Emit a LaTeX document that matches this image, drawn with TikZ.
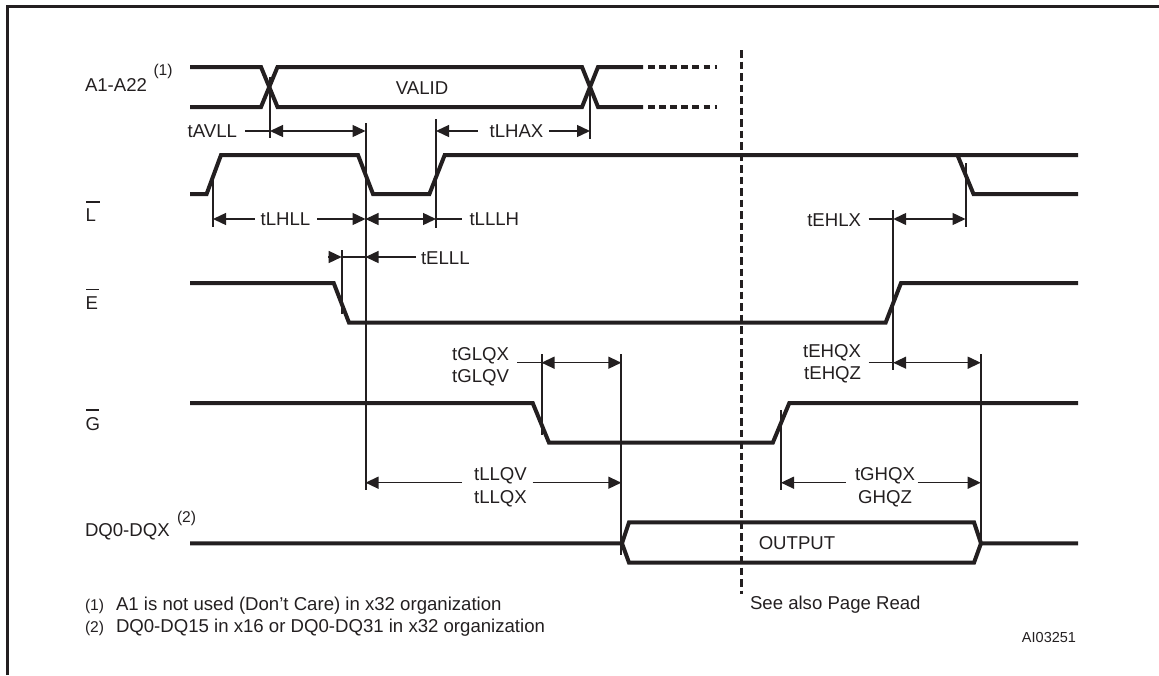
\documentclass[tikz,border=0pt]{standalone}
\usepackage{fontspec}
\setmainfont{Liberation Sans}
\usetikzlibrary{arrows.meta}
\definecolor{ink}{HTML}{231F20}
\tikzset{
  sig/.style={draw=ink,line width=4pt,line join=miter,line cap=butt},
  frameline/.style={draw=ink,line width=3pt},
  vline/.style={draw=ink,line width=2pt},
  dimline/.style={draw=ink,line width=1.4pt},
  tip/.style={-{Triangle[length=13pt,width=12pt]}},
  twotip/.style={{Triangle[length=13pt,width=12pt]}-{Triangle[length=13pt,width=12pt]}},
  lbl/.style={inner sep=0pt,outer sep=0pt,text=ink,font=\fontsize{18.6}{21}\selectfont},
  note/.style={inner sep=0pt,outer sep=0pt,text=ink,font=\fontsize{15.6}{18}\selectfont},
  tiny/.style={inner sep=0pt,outer sep=0pt,text=ink,font=\fontsize{14.5}{17}\selectfont}
}
\begin{document}
\begin{tikzpicture}[x=1pt,y=-1pt]
\useasboundingbox (0,0) rectangle (1159,675);
% frame
\coordinate (fa) at (7.5,675); \coordinate (fb) at (7.5,6.5); \coordinate (fc) at (1159,6.5);
\draw[frameline] (fa) -- (fb) -- (fc);
% named vertical-line ends
\coordinate (a1t) at (270,77);   \coordinate (a1b) at (270,138);
\coordinate (a2t) at (590,88);   \coordinate (a2b) at (590,139);
\coordinate (l1t) at (213,173);  \coordinate (l1b) at (213,227);
\coordinate (l2t) at (365.5,123);\coordinate (l2b) at (365.5,490);
\coordinate (l3t) at (436,119);  \coordinate (l3b) at (436,228);
\coordinate (l4t) at (965.5,163);\coordinate (l4b) at (965.5,227);
\coordinate (e1t) at (341.7,250);\coordinate (e1b) at (341.7,314);
\coordinate (e2t) at (893.2,210);\coordinate (e2b) at (893.2,370);
\coordinate (g1t) at (541.5,354);\coordinate (g1b) at (541.5,435);
\coordinate (g2t) at (781,410);  \coordinate (g2b) at (781,490);
\coordinate (q1t) at (621.3,354);\coordinate (q1b) at (621.3,555);
\coordinate (q2t) at (980.7,354);\coordinate (q2b) at (980.7,543);
\foreach \u/\v in {a1t/a1b,a2t/a2b,l1t/l1b,l2t/l2b,l3t/l3b,l4t/l4b,e1t/e1b,e2t/e2b,g1t/g1b,g2t/g2b,q1t/q1b,q2t/q2b}
  \draw[vline] (\u) -- (\v);
% dashed cursor
\coordinate (ct) at (741.5,50); \coordinate (cb) at (741.5,594);
\draw[draw=ink,line width=2.2pt,dash pattern=on 7.5pt off 4pt] (ct) -- (cb);
% signals
\draw[sig] (190,67) -- (261,67) -- (277.5,107) -- (582,107) -- (598,67) -- (643,67);
\draw[sig] (190,107) -- (261,107) -- (277.5,67) -- (582,67) -- (598,107) -- (643,107);
\draw[sig,dash pattern=on 6.5pt off 4.6pt] (648,67) -- (717,67);
\draw[sig,dash pattern=on 6.5pt off 4.6pt] (648,107) -- (717,107);
\draw[sig] (190,194) -- (206.6,194) -- (221,155) -- (358,155) -- (373,194) -- (429.4,194) -- (444.7,155) -- (1078,155);
\draw[sig] (957.4,155) -- (973.5,194) -- (1078,194);
\draw[sig] (190,283) -- (333.7,283) -- (349,322.7) -- (885.6,322.7) -- (901,283) -- (1078,283);
\draw[sig] (190,403) -- (532.7,403) -- (549,442.7) -- (772.8,442.7) -- (789.3,403) -- (1078,403);
\draw[sig] (190,543.3) -- (622,543.3) -- (629,522.3) -- (974,522.3) -- (981,543.3) -- (1078,543.3);
\draw[sig] (622,543.3) -- (629,562.7) -- (974,562.7) -- (981,543.3);
% signal names
\node[lbl,anchor=west] (nA) at (85,85) {A1-A22};
\node[note,anchor=west] (nAs) at (153.5,71) {(1)};
\node[lbl,anchor=west] (nL) at (85.5,215) {L};
\node[lbl,anchor=west] (nE) at (85.5,303) {E};
\node[lbl,anchor=west] (nG) at (85.5,424) {G};
\node[lbl,anchor=west] (nD) at (85,532) {DQ0-DQX};
\node[note,anchor=west] (nDs) at (177,518) {(2)};
\coordinate (oL1) at (86,202); \coordinate (oL2) at (100,202);
\coordinate (oE1) at (86,289.5); \coordinate (oE2) at (99,289.5);
\coordinate (oG1) at (86,410); \coordinate (oG2) at (99,410);
\draw[dimline] (oL1)--(oL2) (oE1)--(oE2) (oG1)--(oG2);
% bus texts
\node[lbl] (vv) at (422,88) {VALID};
\node[lbl] (oo) at (797,543.5) {OUTPUT};
% timing labels
\node[lbl,anchor=east] (tAVLL) at (237,131.5) {tAVLL};
\node[lbl] (tLHAX) at (516.5,131.5) {tLHAX};
\node[lbl] (tLHLL) at (285.5,219.5) {tLHLL};
\node[lbl,anchor=west] (tLLLH) at (469.5,219.5) {tLLLH};
\node[lbl,anchor=west] (tELLL) at (421,258) {tELLL};
\node[lbl,anchor=east] (tEHLX) at (861,220) {tEHLX};
\node[lbl,anchor=east] (tGLQX) at (509,355.5) {tGLQX};
\node[lbl,anchor=east] (tGLQV) at (509,378) {tGLQV};
\node[lbl,anchor=east] (tEHQX) at (861,352.5) {tEHQX};
\node[lbl,anchor=east] (tEHQZ) at (861,375) {tEHQZ};
\node[lbl] (tLLQV) at (500.5,475.5) {tLLQV};
\node[lbl] (tLLQX) at (500.5,499) {tLLQX};
\node[lbl] (tGHQX) at (885,475.5) {tGHQX};
\node[lbl] (GHQZ) at (885,499) {GHQZ};
% dimension points
\coordinate (d1) at (270,131); \coordinate (d2) at (365.5,131);
\coordinate (d3) at (436,131); \coordinate (d4) at (590,131);
\coordinate (d5) at (213,219); \coordinate (d6) at (365.5,219); \coordinate (d7) at (436,219);
\coordinate (d8) at (341.7,257); \coordinate (d9) at (365.5,257);
\coordinate (d10) at (893.2,219); \coordinate (d11) at (965.5,219);
\coordinate (d12) at (541.5,362.7); \coordinate (d13) at (621.3,362.7);
\coordinate (d14) at (893.2,362.7); \coordinate (d15) at (980.7,362.7);
\coordinate (d16) at (365.5,482.7); \coordinate (d17) at (621.3,482.7);
\coordinate (d18) at (781,482.7); \coordinate (d19) at (980.7,482.7);
\coordinate (s1) at (245,131); \coordinate (s2) at (477.6,131); \coordinate (s3) at (549,131);
\coordinate (s4) at (254.5,219); \coordinate (s5) at (317,219); \coordinate (s6) at (462,219);
\coordinate (s7) at (328,257); \coordinate (s8) at (416,257);
\coordinate (s9) at (868.5,219); \coordinate (s10) at (517,362.7); \coordinate (s11) at (868.5,362.7);
\coordinate (s12) at (462,482.7); \coordinate (s13) at (532.7,482.7);
\coordinate (s14) at (845.8,482.7); \coordinate (s15) at (917.7,482.7);
\draw[dimline] (s1) -- (d1);
\draw[dimline,twotip] (d1) -- (d2);
\draw[dimline,tip] (s2) -- (d3);
\draw[dimline,tip] (s3) -- (d4);
\draw[dimline,tip] (s4) -- (d5);
\draw[dimline,tip] (s5) -- (d6);
\draw[dimline,twotip] (d6) -- (d7);
\draw[dimline] (d7) -- (s6);
\draw[dimline,tip] (s7) -- (d8);
\draw[dimline] (d8) -- (d9);
\draw[dimline,tip] (s8) -- (d9);
\draw[dimline] (s9) -- (d10);
\draw[dimline,twotip] (d10) -- (d11);
\draw[dimline] (s10) -- (d12);
\draw[dimline,twotip] (d12) -- (d13);
\draw[dimline] (s11) -- (d14);
\draw[dimline,twotip] (d14) -- (d15);
\draw[dimline,tip] (s12) -- (d16);
\draw[dimline,tip] (s13) -- (d17);
\draw[dimline,tip] (s14) -- (d18);
\draw[dimline,tip] (s15) -- (d19);
% notes
\node[note,anchor=west] (f1n) at (85,606) {(1)};
\node[lbl,anchor=west] (f1) at (116,606) {A1 is not used (Don't Care) in x32 organization};
\node[note,anchor=west] (f2n) at (85,628) {(2)};
\node[lbl,anchor=west] (f2) at (116,628) {DQ0-DQ15 in x16 or DQ0-DQ31 in x32 organization};
\node[lbl,anchor=west] (see) at (750,605) {See also Page Read};
\node[tiny,anchor=east] (ai) at (1076,637) {AI03251};
\end{tikzpicture}
\end{document}
